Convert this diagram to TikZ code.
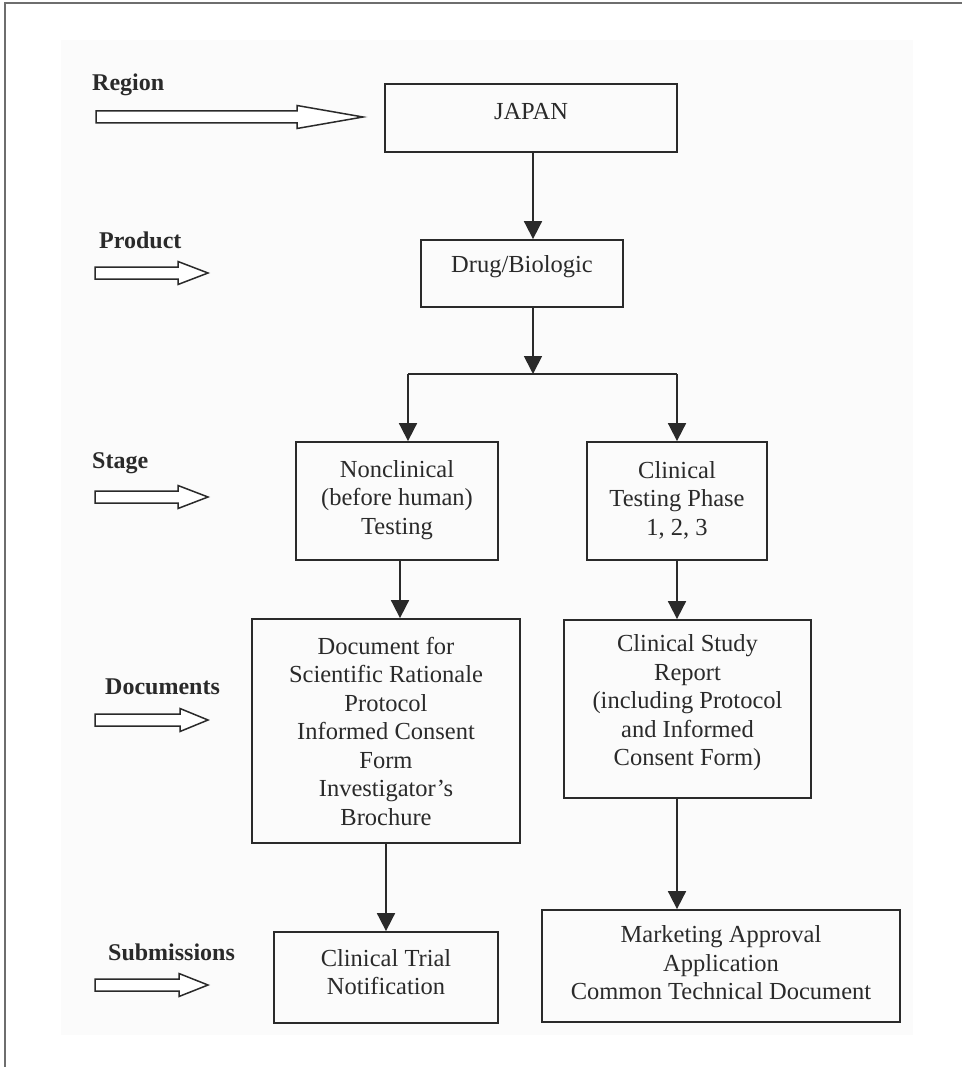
\documentclass[tikz,border=0pt]{standalone}
\usepackage{fontspec}
\setmainfont{Liberation Serif}
\usetikzlibrary{arrows.meta}
\definecolor{ink}{HTML}{2A2A2A}
\definecolor{framec}{HTML}{6E6E6E}
\definecolor{bgc}{HTML}{FBFBFB}
\tikzset{
 box/.style={draw=ink, line width=1.8pt, rectangle, inner sep=0pt},
 txt/.style={text=ink, align=center, font=\fontsize{24.5}{28.5}\selectfont, inner sep=0pt},
 lbl/.style={text=ink, anchor=west, font=\fontsize{24}{28.5}\selectfont\bfseries, inner sep=0pt},
 conn/.style={draw=ink, line width=1.8pt},
 arr/.style={conn, -{Triangle[length=18pt,width=18pt]}},
 hollow/.style={draw=ink, line width=1.5pt, fill=white, line join=miter},
}
\newcommand\hollowarrow[4]{%
 \draw[hollow] (#1,{#4-6}) -- (#2,{#4-6}) -- (#2,{#4-11.5}) -- (#3,#4) -- (#2,{#4+11.5}) -- (#2,{#4+6}) -- (#1,{#4+6}) -- cycle;}
\begin{document}
\begin{tikzpicture}[x=1pt,y=-1pt]
\useasboundingbox (0,0) rectangle (962,1067);
\fill[bgc] (61,40) rectangle (913,1035);
\draw[framec, line width=1.5pt] (5,1067) -- (5,3) -- (962,3);

% boxes
\node[box, minimum width=292pt, minimum height=68pt] (japan) at (531,118) {};
\node[box, minimum width=202pt, minimum height=67pt] (drug) at (522,273.5) {};
\node[box, minimum width=202pt, minimum height=118pt] (nonclin) at (397,501) {};
\node[box, minimum width=180pt, minimum height=118pt] (clin) at (677,501) {};
\node[box, minimum width=268pt, minimum height=224pt] (docs) at (386,731) {};
\node[box, minimum width=247pt, minimum height=178pt] (csr) at (687.5,709) {};
\node[box, minimum width=224pt, minimum height=91pt] (ctn) at (386,977.5) {};
\node[box, minimum width=358pt, minimum height=112pt] (mkt) at (721,966) {};

% box texts
\node[txt] (japantxt) at (531,112) {JAPAN};
\node[txt] (drugtxt) at (522,267) {Drug/Biologic};
\node[txt] (nonclintxt) at (397,500) {Nonclinical\\(before human)\\Testing};
\node[txt] (clintxt) at (677,500) {Clinical\\Testing Phase\\1, 2, 3};
\node[txt] (docstxt) at (386,731) {Document for\\Scientific Rationale\\Protocol\\Informed Consent\\Form\\Investigator’s\\Brochure};
\node[txt] (csrtxt) at (687.5,703) {Clinical Study\\Report\\(including Protocol\\and Informed\\Consent Form)};
\node[txt] (ctntxt) at (386,972) {Clinical Trial\\Notification};
\node[txt] (mkttxt) at (721,963) {Marketing Approval\\Application\\Common Technical Document};

% left labels
\node[lbl] (lregion) at (92,85) {Region};
\node[lbl] (lproduct) at (99,240) {Product};
\node[lbl] (lstage) at (92,463) {Stage};
\node[lbl] (ldocs) at (105,687) {Documents};
\node[lbl] (lsubm) at (108,952) {Submissions};

% hollow arrows
\hollowarrow{96}{297}{363}{117}
\hollowarrow{95}{178}{208}{273}
\hollowarrow{95}{178}{208}{497}
\hollowarrow{95}{180}{208}{720}
\hollowarrow{95}{179}{208}{985}

% connectors
\coordinate (br) at (533,374);
\coordinate (brL) at (408,374);
\coordinate (brR) at (677,374);
\draw[arr] ([xshift=2pt]japan.south) -- ([xshift=2pt]japan.south |- drug.north);
\draw[arr] ([xshift=11pt]drug.south) -- (br);
\draw[conn] (brL) -- (brR);
\draw[arr] (brL) -- (brL |- nonclin.north);
\draw[arr] (brR) -- (brR |- clin.north);
\draw[arr] ([xshift=3pt]nonclin.south) -- ([xshift=3pt]nonclin.south |- docs.north);
\draw[arr] (clin.south) -- (clin.south |- csr.north);
\draw[arr] (docs.south) -- (ctn.north);
\draw[arr] ([xshift=-10.5pt]csr.south) -- ([xshift=-10.5pt]csr.south |- mkt.north);
\end{tikzpicture}
\end{document}
